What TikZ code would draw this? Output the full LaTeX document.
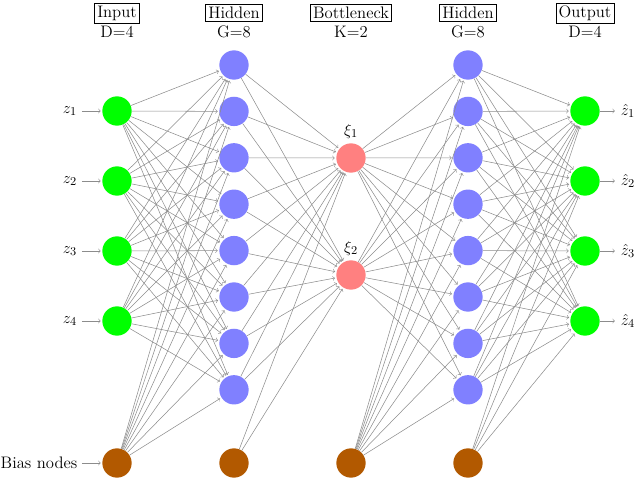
\documentclass[tikz,border=0pt]{standalone}
\usetikzlibrary{arrows}
\begin{document}
\begin{tikzpicture}[x=0.75pt,y=-0.75pt,font=\fontsize{12.5}{15}\selectfont,
  neuron/.style={circle,minimum size=22pt,inner sep=0pt},
  inp/.style={neuron,fill=green},
  hid/.style={neuron,fill=blue!50},
  bot/.style={neuron,fill=red!50},
  bias/.style={neuron,fill=orange!70!black},
  con/.style={->,>=to,draw=black!45,line width=0.4pt,shorten >=1pt},
  hdr/.style={draw,inner sep=2pt}]
\useasboundingbox (0,0) rectangle (640,478);
\foreach \i/\y in {1/111,2/181,3/251,4/321}{
  \node[inp] (I\i) at (117,\y) {};
  \node (zl\i) at (70,\y) {$z_\i$};
  \draw[con] (zl\i) -- (I\i);
  \node[inp] (O\i) at (585,\y) {};
  \node (zo\i) at (628,\y) {$\hat z_\i$};
  \draw[con] (O\i) -- (zo\i);
}
\foreach \i in {1,...,8}{
  \node[hid] (H\i) at (234,{65+(\i-1)*46.4}) {};
  \node[hid] (G\i) at (468,{65+(\i-1)*46.4}) {};
}
\node[bot] (B1) at (351,158) {};
\node[bot] (B2) at (351,275) {};
\node[above=0pt] at (B1.north) {$\xi_1$};
\node[above=0pt] at (B2.north) {$\xi_2$};
\foreach \i/\x in {1/117,2/234,3/351,4/468}
  \node[bias] (b\i) at (\x,463) {};
\node (bl) at (39,463) {Bias nodes};
\draw[con] (bl) -- (b1);
\foreach \j in {1,...,8}{
  \foreach \i in {1,...,4} \draw[con] (I\i) -- (H\j);
  \draw[con] (b1) -- (H\j);
  \foreach \k in {1,2}{ \draw[con] (H\j) -- (B\k); \draw[con] (B\k) -- (G\j);}
  \draw[con] (b3) -- (G\j);
  \foreach \i in {1,...,4} \draw[con] (G\j) -- (O\i);
}
\foreach \k in {1,2} \draw[con] (b2) -- (B\k);
\foreach \i in {1,...,4} \draw[con] (b4) -- (O\i);
\foreach \x/\a/\b in {117/Input/D=4,234/Hidden/G=8,351/Bottleneck/K=2,468/Hidden/G=8,585/Output/D=4}{
  \node[hdr] at (\x,13) {\a};
  \node at (\x,32) {\b};
}
\end{tikzpicture}
\end{document}
